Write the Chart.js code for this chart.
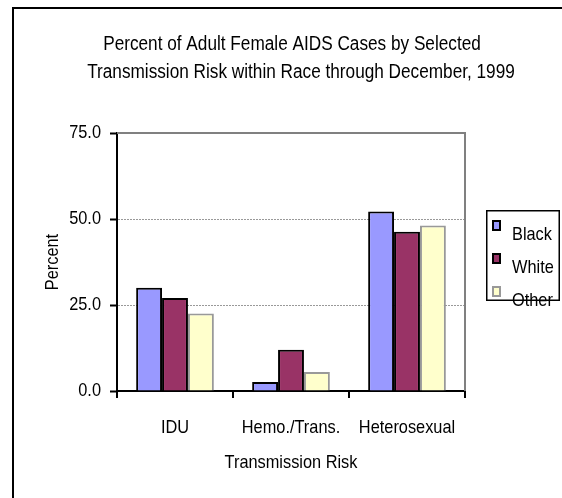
<!DOCTYPE html>
<html>
<head>
<meta charset="utf-8">
<script src="https://cdn.jsdelivr.net/npm/chart.js@4"></script>
<style>
html,body{margin:0;padding:0;background:#fff;}
#wrap{width:562px;height:498px;position:relative;}
</style>
</head>
<body>
<div id="wrap"><canvas id="c" width="562" height="498"></canvas></div>
<script>
const categories = ["IDU", "Hemo./Trans.", "Heterosexual"];
const seriesNames = ["Black", "White", "Other"];
const blackValues = [30.0, 2.6, 52.2];
const whiteValues = [27.0, 12.0, 46.3];
const otherValues = [22.5, 5.5, 48.1];
const yTicks = [0, 25, 50, 75];
const titleLines = ["Percent of Adult Female AIDS Cases by Selected", "Transmission Risk within Race through December, 1999"];

const FONT = "'Liberation Sans', Arial, sans-serif";
const NARROW = 0.86; // emulate a narrow (condensed) face

const canvas = document.getElementById('c');
const ctx2d = canvas.getContext('2d');
const origFillText = ctx2d.fillText.bind(ctx2d);
ctx2d.fillText = function (text, x, y, maxWidth) {
  this.save();
  this.translate(x, y);
  this.scale(NARROW, 1);
  if (maxWidth !== undefined) origFillText(text, 0, 0, maxWidth / NARROW);
  else origFillText(text, 0, 0);
  this.restore();
};

const framePlugin = {
  id: 'frame',
  beforeDraw(chart) {
    const ctx = chart.ctx;
    ctx.save();
    ctx.fillStyle = '#fff';
    ctx.fillRect(0, 0, chart.width, chart.height);
    ctx.restore();
  },
  afterDatasetsDraw(chart) {
    const ctx = chart.ctx, a = chart.chartArea;
    ctx.save();
    ctx.strokeStyle = '#808080';
    ctx.lineWidth = 2;
    ctx.beginPath();
    ctx.moveTo(a.left, a.top);
    ctx.lineTo(a.right, a.top);
    ctx.lineTo(a.right, a.bottom);
    ctx.stroke();
    ctx.restore();
  },
  afterDraw(chart) {
    const ctx = chart.ctx;
    ctx.save();
    // outer frame (left and top edges visible)
    ctx.strokeStyle = '#000';
    ctx.lineWidth = 2;
    ctx.beginPath();
    ctx.moveTo(13, chart.height);
    ctx.lineTo(13, 8);
    ctx.lineTo(chart.width, 8);
    ctx.stroke();
    // title
    ctx.fillStyle = '#000';
    ctx.font = "20px " + FONT;
    ctx.textAlign = 'center';
    ctx.textBaseline = 'middle';
    ctx.fillText(titleLines[0], 292, 44);
    ctx.fillText(titleLines[1], 301, 72);
    // legend
    const a = chart.chartArea;
    const lx = a.right + 21, ly = 210, lw = 74, lh = 91;
    ctx.lineWidth = 1.5;
    ctx.strokeStyle = '#000';
    ctx.strokeRect(lx + 0.75, ly + 0.75, lw - 1.5, lh - 1.5);
    ctx.font = "19px " + FONT;
    ctx.textAlign = 'left';
    chart.data.datasets.forEach((ds, i) => {
      const cy = ly + 24 + i * 33;
      ctx.fillStyle = ds.backgroundColor;
      ctx.fillRect(lx + 7, cy - 13, 7, 9);
      ctx.strokeStyle = ds.borderColor;
      ctx.lineWidth = 2;
      ctx.strokeRect(lx + 7, cy - 13, 7, 9);
      ctx.fillStyle = '#000';
      ctx.fillText(ds.label, lx + 26, cy + 1);
    });
    ctx.restore();
  }
};

new Chart(canvas, {
  type: 'bar',
  data: {
    labels: categories,
    datasets: [
      { label: seriesNames[0], data: blackValues, backgroundColor: '#9999FF', borderColor: '#000000', borderWidth: 2 },
      { label: seriesNames[1], data: whiteValues, backgroundColor: '#993366', borderColor: '#000000', borderWidth: 2 },
      { label: seriesNames[2], data: otherValues, backgroundColor: '#FFFFCC', borderColor: '#999999', borderWidth: 2 }
    ]
  },
  options: {
    responsive: false,
    animation: false,
    layout: { padding: { top: 133, left: 38, right: 97, bottom: 20 } },
    datasets: { bar: { categoryPercentage: 0.67, barPercentage: 1.0 } },
    plugins: {
      title: { display: false },
      legend: { display: false },
      tooltip: { enabled: false }
    },
    scales: {
      x: {
        afterFit(scale) { scale.height = 87; },
        grid: { display: true, drawOnChartArea: false, drawTicks: true, tickLength: 7, color: '#000', lineWidth: 2, offset: true },
        border: { display: true, color: '#000', width: 2 },
        ticks: { color: '#000', font: { family: FONT, size: 19 }, padding: 18, maxRotation: 0, autoSkip: false },
        title: { display: true, text: 'Transmission Risk', color: '#000', font: { family: FONT, size: 19 }, padding: { top: 0, bottom: 4 } }
      },
      y: {
        min: 0, max: 75,
        afterFit(scale) { scale.width = 79; },
        afterBuildTicks(scale) { scale.ticks = yTicks.map(v => ({ value: v })); },
        grid: {
          drawOnChartArea: true, drawTicks: true, tickLength: 7,
          color: ctx => (ctx.tick && (ctx.tick.value === 25 || ctx.tick.value === 50)) ? '#999999' : 'rgba(0,0,0,0)',
          tickColor: '#000', lineWidth: 1, tickWidth: 2
        },
        border: { display: true, color: '#000', width: 2, dash: [2, 1] },
        ticks: { color: '#000', font: { family: FONT, size: 19 }, padding: 9, callback: v => Number(v).toFixed(1) },
        title: { display: true, text: 'Percent', color: '#000', font: { family: FONT, size: 19 }, padding: { top: 3, bottom: 0 } }
      }
    }
  },
  plugins: [framePlugin]
});
</script>
</body>
</html>
